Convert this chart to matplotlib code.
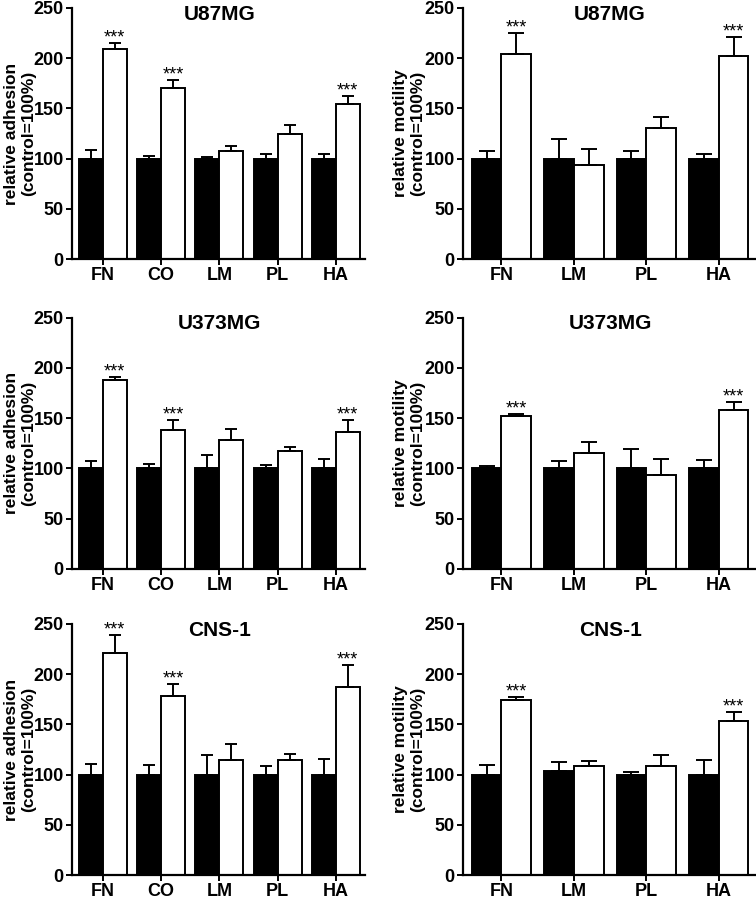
import matplotlib
matplotlib.use("Agg")
import matplotlib.pyplot as plt
import numpy as np

plt.rcParams['font.family'] = ['Liberation Sans', 'DejaVu Sans']

# categories
adh_cats = ['FN', 'CO', 'LM', 'PL', 'HA']
mot_cats = ['FN', 'LM', 'PL', 'HA']

# U87MG adhesion
u87_adh_ctrl = [100, 100, 100, 100, 100]
u87_adh_ctrl_err = [9, 3, 1.6, 5, 4.3]
u87_adh_treat = [209, 170, 108, 125, 154]
u87_adh_treat_err = [6.2, 8.3, 4.3, 8.9, 8.2]
u87_adh_sig = [True, True, False, False, True]

# U87MG motility
u87_mot_ctrl = [100, 100, 100, 100]
u87_mot_ctrl_err = [7.6, 19.4, 7.6, 4.6]
u87_mot_treat = [204.6, 93.4, 130, 202.6]
u87_mot_treat_err = [20.4, 15.8, 11, 18.8]
u87_mot_sig = [True, False, False, True]

# U373MG adhesion
u373_adh_ctrl = [100, 100, 100, 100, 100]
u373_adh_ctrl_err = [7.2, 4.6, 13.5, 3.3, 9.2]
u373_adh_treat = [187.8, 138.5, 128.6, 117.1, 135.9]
u373_adh_treat_err = [2.7, 9.9, 10.5, 3.9, 12.5]
u373_adh_sig = [True, True, False, False, True]

# U373MG motility
u373_mot_ctrl = [100, 100, 100, 100]
u373_mot_ctrl_err = [2.6, 7.2, 19.4, 8.6]
u373_mot_treat = [152.3, 115.1, 93.4, 157.9]
u373_mot_treat_err = [1.7, 10.9, 16.1, 8.2]
u373_mot_sig = [True, False, False, True]

# CNS-1 adhesion
cns_adh_ctrl = [100, 100, 100, 100, 100]
cns_adh_ctrl_err = [10.5, 9.5, 20, 8.2, 15.1]
cns_adh_treat = [220.7, 178, 114.5, 114.5, 187.2]
cns_adh_treat_err = [18.8, 12.1, 15.8, 6.5, 21.7]
cns_adh_sig = [True, True, False, False, True]

# CNS-1 motility
cns_mot_ctrl = [100, 104, 100, 100]
cns_mot_ctrl_err = [9.5, 8.5, 2.3, 14.5]
cns_mot_treat = [174.7, 108.2, 108.2, 153]
cns_mot_treat_err = [2.9, 5.6, 11.8, 9.5]
cns_mot_sig = [True, False, False, True]

yticks = [0, 50, 100, 150, 200, 250]


def draw_panel(ax, cats, ctrl, ctrl_err, treat, treat_err, sig, title, ylabel, capsize, labx):
    x = np.arange(len(cats))
    w = 0.41
    ax.bar(x - w/2, ctrl, w, color='black', edgecolor='black', linewidth=1.4, zorder=2)
    ax.bar(x + w/2, treat, w, color='white', edgecolor='black', linewidth=1.4, zorder=2)
    ax.errorbar(x - w/2, ctrl, yerr=[np.zeros(len(x)), ctrl_err], fmt='none',
                ecolor='black', elinewidth=1.4, capsize=capsize, capthick=1.4, zorder=3)
    ax.errorbar(x + w/2, treat, yerr=[np.zeros(len(x)), treat_err], fmt='none',
                ecolor='black', elinewidth=1.4, capsize=capsize, capthick=1.4, zorder=3)
    for i in range(len(x)):
        if sig[i]:
            ax.text(x[i] + w/2, treat[i] + treat_err[i] + 0.5, '***', ha='center',
                    va='baseline', fontsize=13)
    ax.text((len(x) - 1) / 2, 244, title, ha='center', va='center',
            fontsize=15, fontweight='bold')
    ax.set_xlim(-0.53, len(x) - 1 + 0.5)
    ax.set_ylim(0, 250)
    ax.set_yticks(yticks)
    ax.set_xticks(x)
    ax.set_xticklabels(cats)
    ax.set_ylabel(ylabel, fontsize=12.5, fontweight='bold', linespacing=1.15)
    ax.yaxis.set_label_coords(labx, 0.5)
    for lab in ax.get_xticklabels() + ax.get_yticklabels():
        lab.set_fontweight('bold')
    ax.tick_params(axis='both', labelsize=13, width=1.4, length=4)
    ax.tick_params(axis='x', pad=2)
    ax.tick_params(axis='y', pad=2)
    ax.spines['top'].set_visible(False)
    ax.spines['right'].set_visible(False)
    ax.spines['left'].set_linewidth(1.6)
    ax.spines['bottom'].set_linewidth(1.6)


fig = plt.figure(figsize=(7.56, 9), dpi=100)

lefts = [72 / 756, 463 / 756]
widths = [293 / 756, 292 / 756]
bottoms = [1 - 259 / 900, 1 - 568.7 / 900, 1 - 875 / 900]
h = 251 / 900

panels = [
    (adh_cats, u87_adh_ctrl, u87_adh_ctrl_err, u87_adh_treat, u87_adh_treat_err, u87_adh_sig, 'U87MG'),
    (mot_cats, u87_mot_ctrl, u87_mot_ctrl_err, u87_mot_treat, u87_mot_treat_err, u87_mot_sig, 'U87MG'),
    (adh_cats, u373_adh_ctrl, u373_adh_ctrl_err, u373_adh_treat, u373_adh_treat_err, u373_adh_sig, 'U373MG'),
    (mot_cats, u373_mot_ctrl, u373_mot_ctrl_err, u373_mot_treat, u373_mot_treat_err, u373_mot_sig, 'U373MG'),
    (adh_cats, cns_adh_ctrl, cns_adh_ctrl_err, cns_adh_treat, cns_adh_treat_err, cns_adh_sig, 'CNS-1'),
    (mot_cats, cns_mot_ctrl, cns_mot_ctrl_err, cns_mot_treat, cns_mot_treat_err, cns_mot_sig, 'CNS-1'),
]

for k, p in enumerate(panels):
    row, col = k // 2, k % 2
    ax = fig.add_axes([lefts[col], bottoms[row], widths[col], h])
    if col == 0:
        ylabel = 'relative adhesion\n(control=100%)'
        capsize = 4.3
        labx = -36 / 293
    else:
        ylabel = 'relative motility\n(control=100%)'
        capsize = 5.8
        labx = -38 / 292
    draw_panel(ax, *p, ylabel, capsize, labx)

fig.savefig('out.png', dpi=100)
